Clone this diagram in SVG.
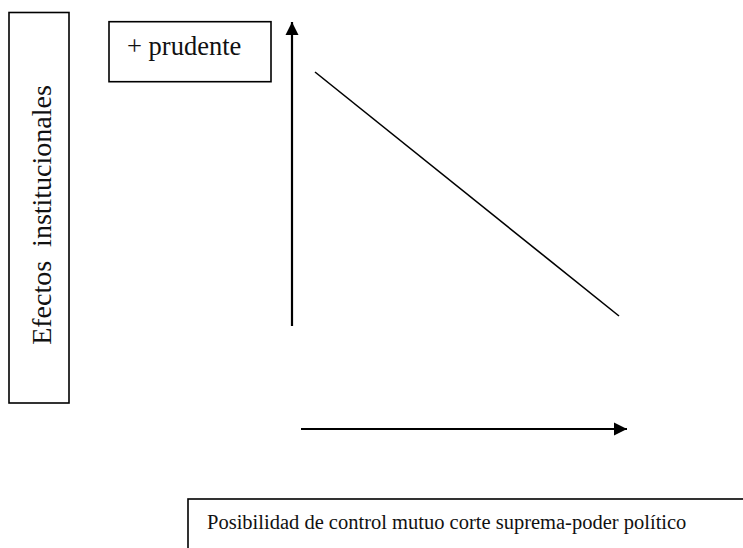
<svg xmlns="http://www.w3.org/2000/svg" width="743" height="548" viewBox="0 0 743 548">
<style>
.box{fill:#fff;stroke:#000;stroke-width:1.6}
.t{font-family:'Liberation Serif','DejaVu Serif','Times New Roman',serif;fill:#111}
.ln{stroke:#000;stroke-width:2.2;fill:none}
</style>
<defs>
<marker id="ah" viewBox="0 0 10 10" refX="10" refY="5" markerWidth="6" markerHeight="6" orient="auto" markerUnits="strokeWidth">
<path d="M0,0 L10,5 L0,10 Z" fill="#000"/>
</marker>
</defs>
<rect width="743" height="548" fill="#fff"/>
<g id="yaxis-label">
<rect class="box" x="9" y="12.5" width="60" height="390.5"/>
<text class="t" font-size="28" transform="translate(51,215) rotate(-90)" text-anchor="middle" xml:space="preserve">Efectos  institucionales</text>
</g>
<g id="prudente">
<rect class="box" x="109" y="21.7" width="162" height="60"/>
<text class="t" x="127" y="55" font-size="26.5">+ prudente</text>
</g>
<g id="xaxis-label">
<rect class="box" x="188" y="499" width="600" height="100"/>
<text class="t" x="207" y="529" font-size="20.5">Posibilidad de control mutuo corte suprema-poder político</text>
</g>
<g id="connectors">
<line class="ln" x1="292" y1="326" x2="292" y2="22" marker-end="url(#ah)"/>
<line class="ln" x1="301" y1="429" x2="627" y2="429" marker-end="url(#ah)"/>
<line x1="315" y1="72" x2="619" y2="316" stroke="#000" stroke-width="1.6"/>
</g>
</svg>
